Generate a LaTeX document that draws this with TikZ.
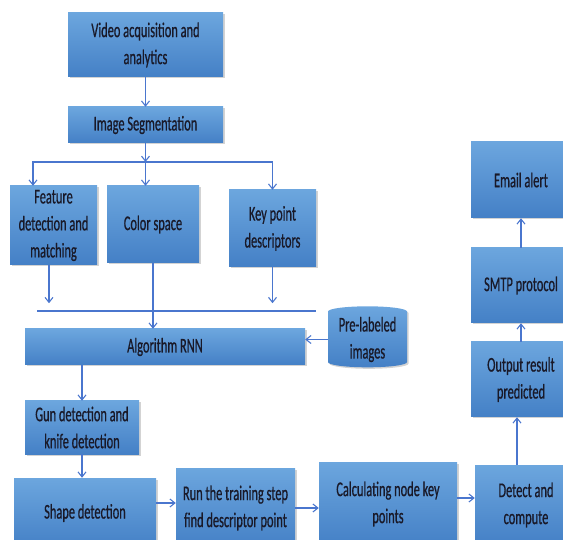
\documentclass[tikz,border=0pt]{standalone}
\usepackage{fontspec}
\setmainfont[FakeStretch=0.59,FakeBold=0.6]{Carlito}
\usepackage{xcolor}
\usetikzlibrary{positioning,arrows.meta,shapes.geometric,shadows}
\definecolor{boxtop}{RGB}{108,166,222}
\definecolor{boxbot}{RGB}{68,128,198}
\definecolor{linkblue}{RGB}{74,118,206}
\definecolor{ink}{RGB}{25,25,40}

\begin{document}
\begin{tikzpicture}[x=1pt,y=-1pt,
  block/.style={top color=boxtop,bottom color=boxbot,draw=none,
    drop shadow={opacity=0.35,shadow xshift=1.5pt,shadow yshift=-1.5pt},
    align=center,inner sep=2pt,text=ink,font=\fontsize{21}{27}\selectfont},
  link/.style={-{Straight Barb[length=5pt,width=8pt]},draw=linkblue,line width=1.1pt},
  bus/.style={draw=linkblue,line width=1.6pt}]
\useasboundingbox (0,0) rectangle (563,540);
\clip (0,0) rectangle (563,540);
% left column
\node[block,minimum width=155pt,minimum height=64pt] (video) at (145.5,45) {Video acquisition and\\analytics};
\node[block,minimum width=155pt,minimum height=36pt] (seg) at (145.5,125) {Image Segmentation};
\node[block,minimum width=87pt,minimum height=79pt] (feat) at (53.5,225.5) {Feature\\detection and\\matching};
\node[block,minimum width=92pt,minimum height=77pt] (color) at (153,224.5) {Color space};
\node[block,minimum width=87pt,minimum height=77pt] (key) at (272.5,228.5) {Key point\\descriptors};
\node[block,minimum width=280pt,minimum height=36pt] (rnn) at (165,347) {Algorithm RNN};
\node[block,cylinder,shape border rotate=90,aspect=0.18,inner sep=0pt,minimum width=79pt,minimum height=61pt] (prelab) at (367.5,339.5) {Pre-labeled\\images};
\node[block,minimum width=114pt,minimum height=53pt] (gun) at (82,427.5) {Gun detection and\\knife detection};
% bottom row
\node[block,minimum width=142pt,minimum height=70pt] (shapedet) at (85,513) {Shape detection};
\node[block,minimum width=119pt,minimum height=80pt] (run) at (235.5,508) {Run the training step\\find descriptor point};
\node[block,minimum width=138pt,minimum height=84pt] (calc) at (388,504) {Calculating node key\\points};
\node[block,minimum width=102pt,minimum height=80pt] (detect) at (526,505) {Detect and\\compute};
% right column
\node[block,minimum width=100pt,minimum height=75pt] (output) at (521,379.5) {Output result\\predicted};
\node[block,minimum width=100pt,minimum height=75pt] (smtp) at (521,285.5) {SMTP protocol};
\node[block,minimum width=100pt,minimum height=76pt] (email) at (521,180) {Email alert};
% connectors
\coordinate (split) at (145.5,162);
\coordinate (busL) at (37,311);
\coordinate (busR) at (316,311);
\draw[link] (video) -- (seg);
\draw[link] (seg) -- (split);
\draw[link] (split) -| ([xshift=-20.5pt]feat.north);
\draw[link] (split) -- (split |- color.north);
\draw[link] (split) -| (key.north);
\draw[bus] (busL) -- (busR);
\draw[link] ([xshift=-4.5pt]feat.south) -- ++(0,38);
\draw[link] (key.south) -- ++(0,36);
\draw[link] (color.south) -- (color.south |- rnn.north);
\draw[link] (prelab.west) -- (prelab.west -| rnn.east);
\draw[link] (gun.north |- rnn.south) -- (gun.north);
\draw[link] (gun.south) -- (gun.south |- shapedet.north);
\draw[link] ([yshift=10pt]shapedet.east) -- ([yshift=10pt]shapedet.east -| run.west);
\draw[link] (run.east) -- (run.east -| calc.west);
\draw[link] ([yshift=6pt]calc.east) -- ([yshift=6pt]calc.east -| detect.west);
\draw[link] ([xshift=-9pt]detect.north) -- ([xshift=-9pt]detect.north |- output.south);
\draw[link] (output) -- (smtp);
\draw[link] (smtp) -- (email);
\end{tikzpicture}
\end{document}
